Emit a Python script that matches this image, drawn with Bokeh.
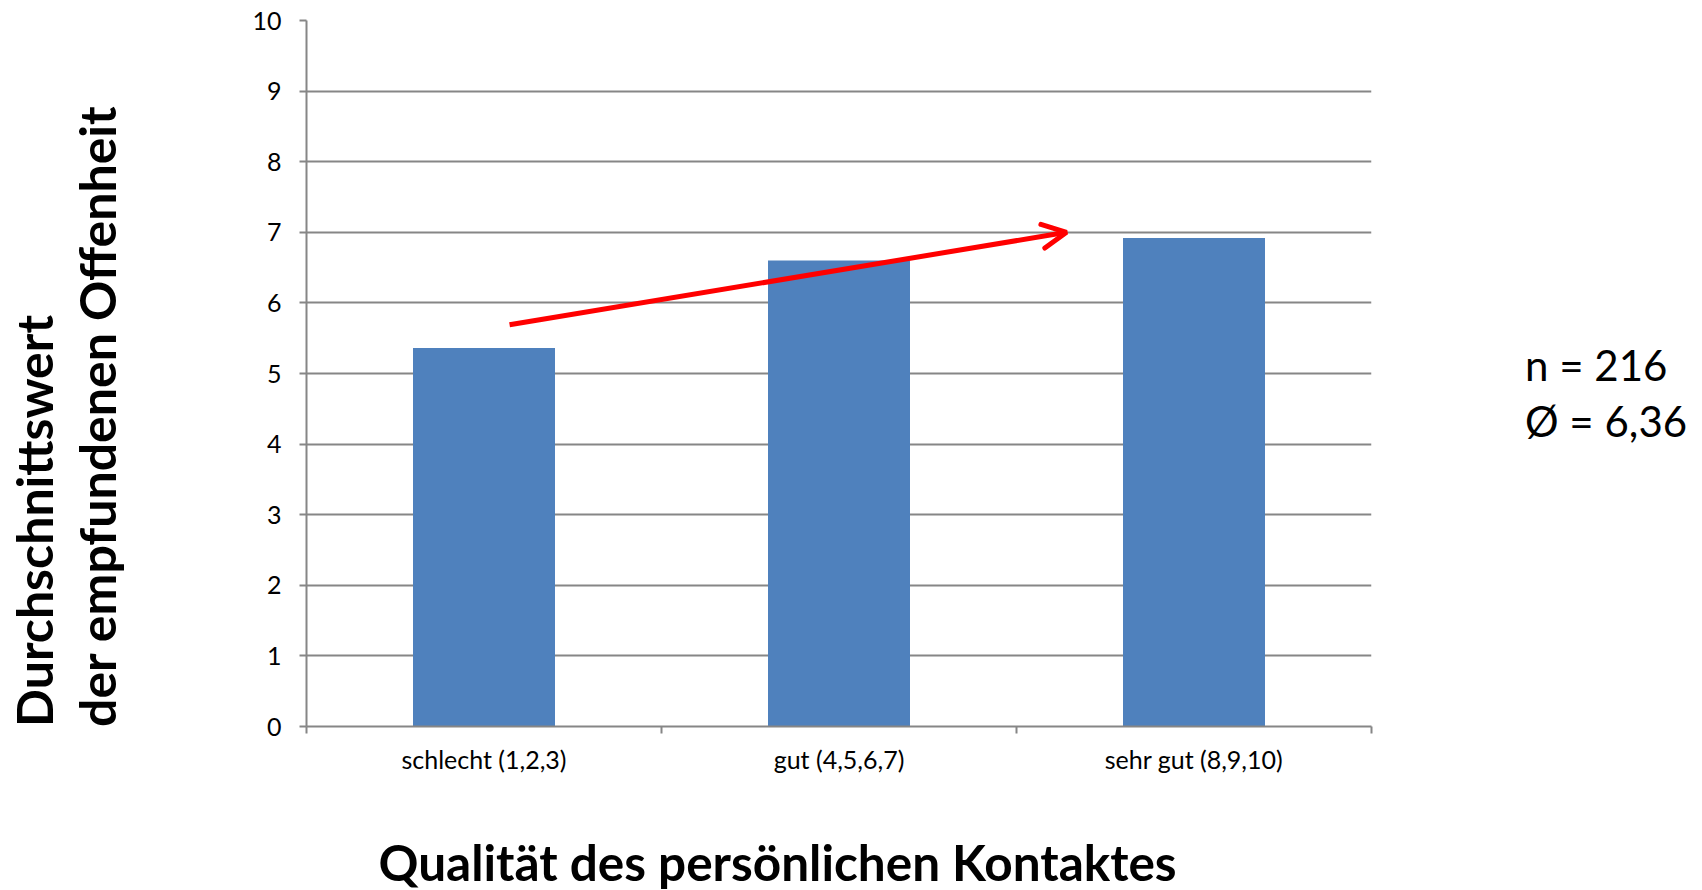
from bokeh.plotting import figure
from bokeh.models import FixedTicker, Arrow, OpenHead, Range1d, Title, Div
from bokeh.layouts import row
from bokeh.embed import file_html
from bokeh.resources import INLINE

# ---- data ----
categories = ["schlecht (1,2,3)", "gut (4,5,6,7)", "sehr gut (8,9,10)"]
mean_values = [5.36, 6.6, 6.92]
y_ticks = [0, 1, 2, 3, 4, 5, 6, 7, 8, 9, 10]
x_title = "Qualität des persönlichen Kontaktes"
y_title_lines = ["Durchschnittswert", "der empfundenen Offenheit"]
info_lines = ["n = 216", "Ø = 6,36"]
arrow_start = (0.572, 5.69)
arrow_end = (2.141, 7.0)

FONT = "Lato"
GRID = "#868686"
BAR = "#4F81BD"
H = 888          # height used by all parts
LEFT_W = 200     # width of the y-title strip

x_pos = [i + 0.5 for i in range(len(categories))]

# ---- strip holding the two-line y title (rotated text) ----
line_lefts = [4, 67]
spans = "".join(
    f'<div style="position:absolute;left:{lx}px;top:727px;transform-origin:0 0;'
    f'transform:rotate(-90deg);white-space:nowrap;">{t}</div>'
    for lx, t in zip(line_lefts, y_title_lines))
ytitle = Div(text=(f'<div style="position:relative;width:{LEFT_W}px;height:{H}px;'
                   f'font-family:{FONT};font-weight:bold;font-size:50px;line-height:60px;'
                   f'color:black;">{spans}</div>'),
             width=LEFT_W, height=H, margin=(0, 0, 0, 0))

# ---- main chart ----
p = figure(width=106 + 1065 + 20, height=H, output_backend="svg", toolbar_location=None,
           x_range=Range1d(0, len(categories)), y_range=Range1d(0, 10),
           frame_width=1065, frame_height=706,
           min_border_left=106, min_border_right=20, min_border_top=20, min_border_bottom=162)
p.outline_line_color = None
p.background_fill_color = "white"
p.border_fill_color = "white"

p.vbar(x=x_pos, top=mean_values, width=0.4, fill_color=BAR, line_color=None)

p.xgrid.grid_line_color = None
p.ygrid.grid_line_color = GRID
p.ygrid.grid_line_width = 2
p.ygrid.ticker = FixedTicker(ticks=y_ticks)

p.yaxis.ticker = FixedTicker(ticks=y_ticks)
p.yaxis.axis_line_color = GRID
p.yaxis.axis_line_width = 2
p.yaxis.major_tick_line_color = GRID
p.yaxis.major_tick_line_width = 2
p.yaxis.major_tick_out = 7
p.yaxis.major_tick_in = 0
p.yaxis.minor_tick_line_color = None
p.yaxis.major_label_text_font = FONT
p.yaxis.major_label_text_font_size = "25px"
p.yaxis.major_label_text_color = "black"
p.yaxis.major_label_standoff = 18

p.xaxis.ticker = FixedTicker(ticks=x_pos, minor_ticks=list(range(len(categories) + 1)))
p.xaxis.major_label_overrides = {x: c for x, c in zip(x_pos, categories)}
p.xaxis.axis_line_color = GRID
p.xaxis.axis_line_width = 2
p.xaxis.major_tick_line_color = None
p.xaxis.major_tick_out = 0
p.xaxis.minor_tick_line_color = GRID
p.xaxis.minor_tick_line_width = 2
p.xaxis.minor_tick_out = 7
p.xaxis.minor_tick_in = 0
p.xaxis.major_label_text_font = FONT
p.xaxis.major_label_text_font_size = "25px"
p.xaxis.major_label_text_color = "black"
p.xaxis.major_label_standoff = 10

p.add_layout(Arrow(x_start=arrow_start[0], y_start=arrow_start[1],
                   x_end=arrow_end[0], y_end=arrow_end[1],
                   line_color="#FF0000", line_width=5,
                   end=OpenHead(size=24, line_color="#FF0000", line_width=5, line_cap="round")))

p.add_layout(Title(text=x_title, align="left", offset=72, standoff=107,
                   text_font=FONT, text_font_style="bold", text_font_size="49.5px",
                   text_color="black"), "below")

info = Div(text="<br>".join(info_lines), width=300, height=H,
           styles={"font-family": FONT, "font-size": "42px", "line-height": "56px",
                   "color": "black", "margin-top": "337px", "padding-left": "129px",
                   "white-space": "nowrap"})

layout = row(ytitle, p, info)
open("out.html", "w").write(file_html(layout, INLINE))
